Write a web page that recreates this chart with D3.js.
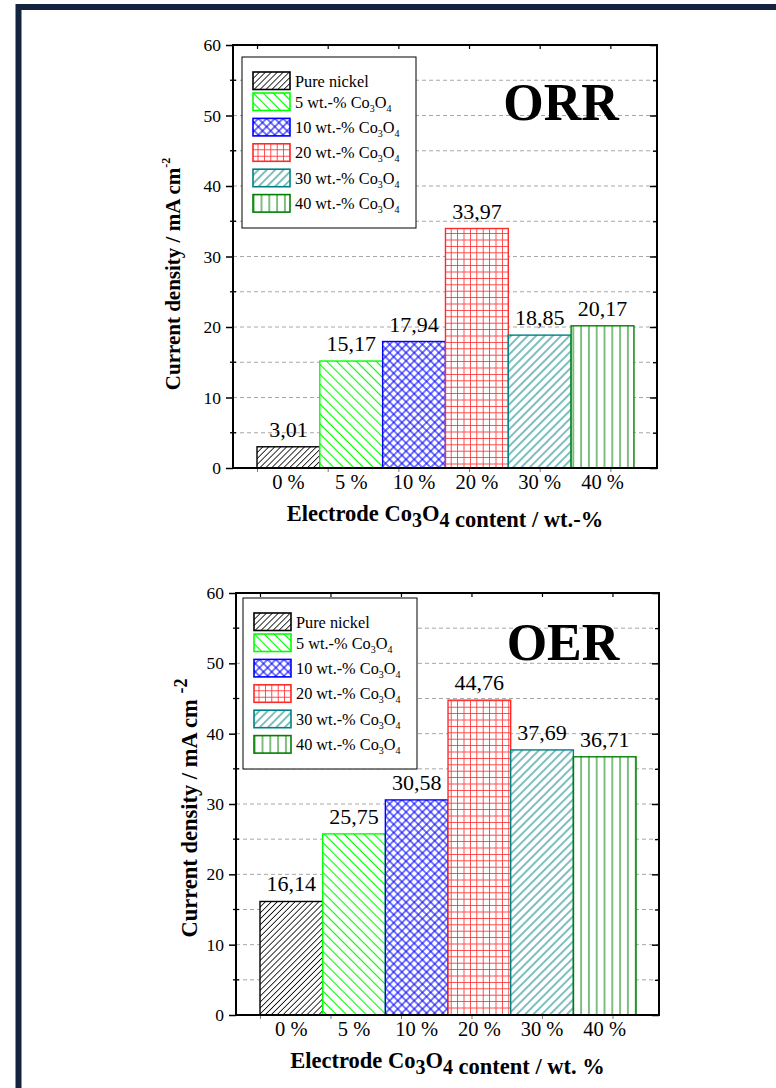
<!DOCTYPE html>
<html>
<head>
<meta charset="utf-8">
<script src="https://cdn.jsdelivr.net/npm/d3@7"></script>
<style>
  html, body { margin: 0; padding: 0; background: #fff; }
  svg { display: block; }
  svg text { font-family: "Liberation Serif", "Times New Roman", serif; }
</style>
</head>
<body>
<svg id="fig" width="776" height="1088"></svg>
<script>
// ---- data ----
const categories = ["0 %", "5 %", "10 %", "20 %", "30 %", "40 %"];
const seriesNames = ["Pure nickel", "5 wt.-% Co3O4", "10 wt.-% Co3O4",
                     "20 wt.-% Co3O4", "30 wt.-% Co3O4", "40 wt.-% Co3O4"];
const orrValues = [3.01, 15.17, 17.94, 33.97, 18.85, 20.17];
const oerValues = [16.14, 25.75, 30.58, 44.76, 37.69, 36.71];
const yTickValues = [0, 10, 20, 30, 40, 50, 60];
const yMinorValues = [5, 15, 25, 35, 45, 55];
const panelNames = ["ORR", "OER"];
const xTitles = ["Electrode Co3O4 content / wt.-%", "Electrode Co3O4 content / wt. %"];
const yTitle = "Current density / mA cm";

// ---- styles ----
const seriesColors = ["#000000", "#00ff00", "#0000ff", "#ff2a2a", "#008080", "#008000"];
const SERIF = '"Liberation Serif", "Times New Roman", serif';

const svg = d3.select("#fig");
const defs = svg.append("defs");

// hatch fills, one per series
function linePattern(id, color, size, angle, kinds, sw) {
  const p = defs.append("pattern")
    .attr("id", id)
    .attr("patternUnits", "userSpaceOnUse")
    .attr("width", size).attr("height", size)
    .attr("patternTransform", `rotate(${angle})`);
  if (kinds.includes("v")) {
    p.append("line").attr("x1", size / 2).attr("x2", size / 2)
      .attr("y1", -1).attr("y2", size + 1)
      .attr("stroke", color).attr("stroke-width", sw);
  }
  if (kinds.includes("h")) {
    p.append("line").attr("y1", size / 2).attr("y2", size / 2)
      .attr("x1", -1).attr("x2", size + 1)
      .attr("stroke", color).attr("stroke-width", sw);
  }
}
linePattern("hatch0", seriesColors[0], 4.2, 45, ["v"], 0.8);
linePattern("hatch1", seriesColors[1], 7.0, -45, ["v"], 1.1);
linePattern("hatch2", seriesColors[2], 5.8, 45, ["v", "h"], 1.05);
linePattern("hatch3", "#ff3a3a", 6.4, 0, ["v", "h"], 0.9);
linePattern("hatch4", seriesColors[4], 5.9, 45, ["v"], 1.0);
linePattern("hatch5", seriesColors[5], 7.8, 0, ["v"], 1.0);

// Co3O4 written with subscripts
function richText(sel, str, subSize, subDy) {
  const parts = str.split(/(Co3O4)/);
  parts.forEach(part => {
    if (part === "Co3O4") {
      sel.append("tspan").text("Co");
      sel.append("tspan").attr("font-size", subSize).attr("dy", subDy).text("3");
      sel.append("tspan").attr("dy", -subDy).text("O");
      sel.append("tspan").attr("font-size", subSize).attr("dy", subDy).text("4");
      sel.append("tspan").attr("dy", -subDy).text("");
    } else if (part.length) {
      sel.append("tspan").text(part);
    }
  });
}

const fmt = v => d3.format(".2f")(v).replace(".", ",");

const panels = [
  { values: orrValues, left: 233, right: 657, top: 45, bottom: 468,
    legendX: 242, legendY: 57, nameX: 561, nameY: 120,
    yTitleX: 180, yTitleY: 274, yTitleSize: 21, supSize: 12, supSpace: "" },
  { values: oerValues, left: 236, right: 659, top: 593, bottom: 1015,
    legendX: 243, legendY: 598, nameX: 563, nameY: 660,
    yTitleX: 197, yTitleY: 808, yTitleSize: 22.5, supSize: 18, supSpace: " " }
];

// page frame
svg.append("rect")
  .attr("x", 18.5).attr("y", 7).attr("width", 800).attr("height", 1120)
  .attr("fill", "none").attr("stroke", "#14243f").attr("stroke-width", 6);

panels.forEach((pn, pi) => {
  const g = svg.append("g");
  const y = d3.scaleLinear().domain([0, 60]).range([pn.bottom, pn.top]);
  const x = d3.scaleBand().domain(categories)
    .range([pn.left + 24, pn.left + 24 + (pn.right - pn.left) * 0.889]).padding(0);
  const xFrame = d3.scaleLinear().domain([-0.34, 5.66]).range([pn.left, pn.right]);

  // dashed grid
  g.append("g").selectAll("line")
    .data(yMinorValues.concat(yTickValues.filter(v => v > 0 && v < 60)))
    .join("line")
    .attr("x1", pn.left).attr("x2", pn.right)
    .attr("y1", d => y(d)).attr("y2", d => y(d))
    .attr("stroke", "#a8a8a8").attr("stroke-width", 1)
    .attr("stroke-dasharray", "4,3");

  // bars
  const bars = g.append("g");
  pn.values.forEach((v, i) => {
    const bx = x(categories[i]), bw = x.bandwidth();
    bars.append("rect").attr("x", bx).attr("y", y(v))
      .attr("width", bw).attr("height", y(0) - y(v)).attr("fill", "#fff");
    bars.append("rect").attr("x", bx).attr("y", y(v))
      .attr("width", bw).attr("height", y(0) - y(v))
      .attr("fill", `url(#hatch${i})`)
      .attr("stroke", seriesColors[i]).attr("stroke-width", 1.4);
    g.append("text")
      .attr("x", bx + bw / 2).attr("y", y(v) - 10)
      .attr("text-anchor", "middle").attr("font-size", 22)
      .attr("font-family", SERIF)
      .text(fmt(v));
  });

  // left axis with labels
  const leftAxis = g.append("g").attr("transform", `translate(${pn.left},0)`)
    .call(d3.axisLeft(y).tickValues(yTickValues).tickSize(7).tickSizeOuter(0).tickPadding(5));
  leftAxis.attr("font-family", SERIF).attr("font-size", null);
  leftAxis.selectAll("text").attr("font-size", 17.5).attr("fill", "#000")
    .attr("font-family", SERIF);
  leftAxis.selectAll("line").attr("stroke-width", 1.5);
  leftAxis.select(".domain").remove();
  g.append("g").selectAll("line").data(yMinorValues).join("line")
    .attr("x1", pn.left - 3).attr("x2", pn.left + 3)
    .attr("y1", d => y(d)).attr("y2", d => y(d))
    .attr("stroke", "#000").attr("stroke-width", 1.3);

  // right axis ticks
  const rightAxis = g.append("g").attr("transform", `translate(${pn.right},0)`)
    .call(d3.axisLeft(y).tickValues(yTickValues).tickSize(7).tickSizeOuter(0).tickFormat(""));
  rightAxis.select(".domain").remove();
  rightAxis.selectAll("line").attr("stroke-width", 1.5);
  const rightMinor = g.append("g").attr("transform", `translate(${pn.right},0)`)
    .call(d3.axisLeft(y).tickValues(yMinorValues).tickSize(4).tickSizeOuter(0).tickFormat(""));
  rightMinor.select(".domain").remove();
  rightMinor.selectAll("line").attr("stroke-width", 1.3);

  // top and bottom tick marks
  const topTicks = g.append("g").attr("transform", `translate(0,${pn.top})`)
    .call(d3.axisBottom(xFrame).tickValues(d3.range(6)).tickSize(4).tickSizeOuter(0).tickFormat(""));
  topTicks.select(".domain").remove();
  topTicks.selectAll("line").attr("stroke-width", 1.2);
  const botTicks = g.append("g").attr("transform", `translate(0,${pn.bottom})`)
    .call(d3.axisBottom(xFrame).tickValues(d3.range(6)).tickSize(4).tickSizeOuter(0).tickFormat(""));
  botTicks.select(".domain").remove();
  botTicks.selectAll("line").attr("stroke", "#777").attr("stroke-width", 1);

  // category labels
  const catAxis = g.append("g").attr("transform", `translate(0,${pn.bottom})`)
    .call(d3.axisBottom(x).tickSize(0).tickPadding(6));
  catAxis.attr("font-family", SERIF).attr("font-size", null);
  catAxis.select(".domain").remove();
  catAxis.selectAll("text").attr("font-size", 20.5).attr("fill", "#000")
    .attr("font-family", SERIF)
    .attr("dy", null).attr("y", 21);

  // plot frame
  g.append("rect")
    .attr("x", pn.left).attr("y", pn.top)
    .attr("width", pn.right - pn.left).attr("height", pn.bottom - pn.top)
    .attr("fill", "none").attr("stroke", "#000").attr("stroke-width", 2);

  // legend
  const lg = g.append("g").attr("transform", `translate(${pn.legendX},${pn.legendY})`);
  lg.append("rect").attr("x", 0).attr("y", 0).attr("width", 174).attr("height", 171)
    .attr("fill", "#fff").attr("stroke", "#000").attr("stroke-width", 1);
  seriesNames.forEach((name, i) => {
    const ry = i === 0 ? 15 : 36 + (i - 1) * 25.4;
    lg.append("rect").attr("x", 11).attr("y", ry).attr("width", 37).attr("height", 17.5)
      .attr("fill", "#fff");
    lg.append("rect").attr("x", 11).attr("y", ry).attr("width", 37).attr("height", 17.5)
      .attr("fill", `url(#hatch${i})`)
      .attr("stroke", seriesColors[i]).attr("stroke-width", 1.6);
    const t = lg.append("text").attr("x", 53).attr("y", ry + 14.5)
      .attr("font-size", 16.3).attr("font-family", SERIF);
    richText(t, name, 10, 4);
  });

  // panel name
  g.append("text").attr("x", pn.nameX).attr("y", pn.nameY)
    .attr("text-anchor", "middle").attr("font-size", 52).attr("font-weight", "bold")
    .attr("font-family", SERIF)
    .text(panelNames[pi]);

  // x title
  const xt = g.append("text")
    .attr("x", (pn.left + pn.right) / 2).attr("y", pn.bottom + 53)
    .attr("text-anchor", "middle").attr("font-size", 22.5).attr("font-weight", "bold")
    .attr("font-family", SERIF);
  richText(xt, xTitles[pi], 20, 6);

  // y title
  const yt = g.append("text")
    .attr("transform", `translate(${pn.yTitleX},${pn.yTitleY}) rotate(-90)`)
    .attr("text-anchor", "middle").attr("font-size", pn.yTitleSize).attr("font-weight", "bold")
    .attr("font-family", SERIF);
  yt.append("tspan").text(yTitle + pn.supSpace);
  yt.append("tspan").attr("font-size", pn.supSize).attr("dy", -10).text("-2");
});
</script>
</body>
</html>
